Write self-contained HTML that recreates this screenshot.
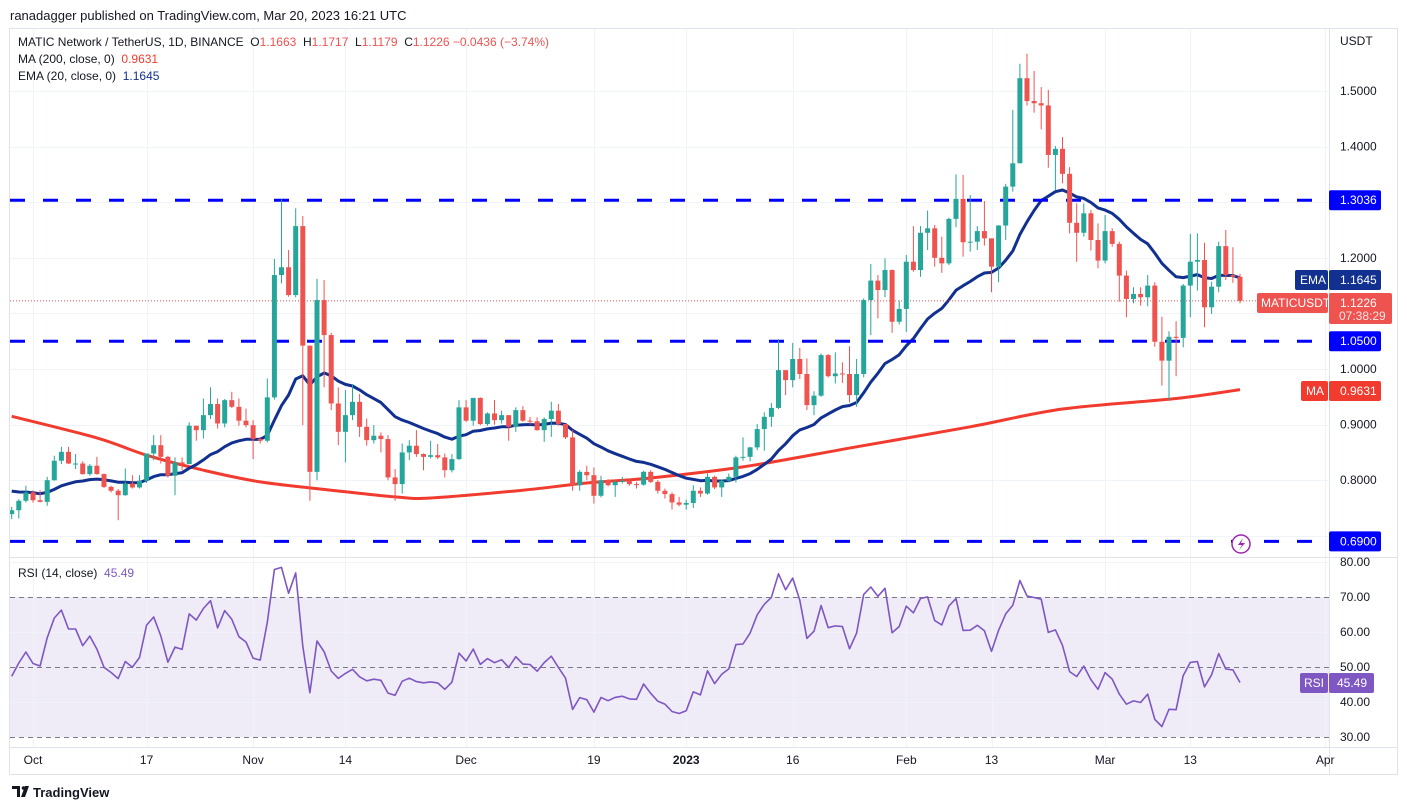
<!DOCTYPE html>
<html><head><meta charset="utf-8"><style>
html,body{margin:0;padding:0;background:#fff;}
svg{display:block;font-family:"Liberation Sans",sans-serif;}
</style></head><body>
<svg id="c" width="1407" height="810" viewBox="0 0 1407 810"></svg>
<script>
const closes=[.746,.763,.778,.764,.761,.800,.835,.851,.830,.830,.811,.826,.811,.788,.781,.773,.794,.787,.799,.848,.863,.842,.808,.832,.829,.898,.890,.917,.937,.902,.944,.932,.907,.899,.874,.871,.949,1.169,1.183,1.133,1.257,1.042,.815,1.124,1.061,.938,.887,.917,.941,.896,.872,.880,.874,.805,.793,.850,.862,.847,.842,.845,.841,.818,.838,.931,.907,.948,.901,.920,.908,.917,.896,.926,.907,.906,.890,.910,.925,.901,.877,.791,.815,.809,.772,.800,.791,.797,.799,.793,.792,.815,.797,.781,.775,.760,.756,.759,.781,.776,.806,.787,.799,.806,.841,.842,.859,.892,.914,.930,.998,.980,1.018,.991,.935,.952,1.025,.987,.992,.991,.953,.991,1.124,1.159,1.142,1.178,1.085,1.108,1.193,1.178,1.245,1.253,1.200,1.190,1.270,1.306,1.228,1.229,1.248,1.235,1.184,1.258,1.328,1.370,1.523,1.482,1.478,1.474,1.385,1.396,1.351,1.263,1.245,1.280,1.232,1.195,1.248,1.225,1.168,1.126,1.135,1.129,1.150,1.049,1.015,1.058,1.056,1.150,1.193,1.196,1.111,1.148,1.221,1.169,1.166,1.1226];
const highs=[.752,.766,.790,.782,.782,.806,.844,.860,.860,.847,.834,.829,.842,.812,.790,.784,.821,.809,.809,.848,.881,.881,.844,.841,.841,.904,.898,.947,.967,.947,.946,.959,.947,.929,.908,.878,.983,1.198,1.305,1.214,1.289,1.275,1.042,1.162,1.160,1.065,.967,.962,.973,.955,.911,.899,.886,.881,.820,.866,.872,.890,.848,.871,.865,.848,.847,.944,.944,.948,.949,.922,.944,.925,.917,.931,.933,.914,.913,.913,.941,.937,.901,.890,.818,.826,.823,.808,.802,.800,.806,.802,.797,.817,.818,.800,.785,.778,.770,.765,.791,.787,.812,.808,.801,.812,.844,.877,.860,.901,.922,.939,1.054,.997,1.047,1.038,1.019,.960,1.028,1.027,1.030,1.012,1.041,1.018,1.127,1.189,1.169,1.199,1.179,1.123,1.205,1.257,1.257,1.285,1.259,1.238,1.272,1.350,1.349,1.313,1.257,1.302,1.235,1.259,1.333,1.466,1.549,1.567,1.536,1.507,1.502,1.401,1.417,1.363,1.298,1.298,1.286,1.262,1.277,1.253,1.229,1.177,1.147,1.147,1.169,1.156,1.094,1.068,1.086,1.153,1.243,1.244,1.227,1.157,1.229,1.250,1.219,1.171];
const lows=[.730,.731,.760,.760,.760,.754,.799,.829,.829,.820,.810,.808,.810,.786,.778,.728,.772,.785,.785,.795,.836,.830,.805,.773,.818,.829,.871,.875,.910,.893,.895,.930,.898,.895,.838,.866,.868,.945,1.154,1.130,1.129,.899,.763,.800,.967,.926,.863,.832,.908,.878,.862,.866,.850,.800,.763,.776,.836,.842,.818,.839,.838,.805,.814,.836,.905,.898,.899,.898,.900,.902,.871,.887,.905,.900,.889,.869,.878,.898,.874,.781,.781,.800,.758,.769,.789,.770,.794,.790,.785,.790,.795,.776,.767,.747,.753,.747,.750,.770,.774,.784,.770,.797,.796,.835,.834,.854,.853,.896,.928,.953,.967,.982,.926,.917,.950,.985,.974,.975,.940,.932,.985,1.061,1.091,1.129,1.065,1.080,1.067,1.175,1.166,1.214,1.184,1.173,1.187,1.255,1.202,1.211,1.214,1.222,1.138,1.156,1.232,1.319,1.370,1.474,1.461,1.431,1.362,1.322,1.334,1.244,1.193,1.238,1.213,1.181,1.190,1.220,1.121,1.093,1.118,1.114,1.113,1.040,.970,.944,.987,1.039,1.093,1.141,1.075,1.099,1.138,1.160,1.155,1.118];
const firstOpen=.739;
const firstDay=-3; // days relative to Oct 1
const maDays=[-3,9,16,24,32,42,51,56,69,78,87,100,116,132,145,161,170];
const maVals=[.915,.876,.845,.818,.797,.782,.770,.768,.782,.795,.804,.824,.860,.896,.928,.947,.963];
const priceTicks=[1.5,1.4,1.3,1.2,1.1,1.0,0.9,0.8,0.7];
const levels=[1.3036,1.05,0.69];
const rsiTicks=[80,70,60,50,40,30];
const timeLabels=["Oct","17","Nov","14","Dec","19","2023","16","Feb","13","Mar","13","Apr"];
const timeDays=[0,16,31,44,61,79,92,107,123,135,151,163,182];

const NS="http://www.w3.org/2000/svg";
const svg=document.getElementById('c');
function mk(tag,attrs,parent){const e=document.createElementNS(NS,tag);for(const k in attrs)e.setAttribute(k,attrs[k]);(parent||svg).appendChild(e);return e;}
function txt(s,attrs,parent){const e=mk('text',attrs,parent);e.textContent=s;return e;}
const xOf=d=>33+d*7.1;
const yP=p=>91+(1.5-p)*556;
const yR=v=>597+(70-v)*3.5;

const frame=mk('rect',{x:9.5,y:28.5,width:1388,height:746,fill:'none',stroke:'#e0e3eb'});

const band=mk('rect',{x:10,y:yR(70),width:1319,height:yR(30)-yR(70),fill:'#efebf7'});

const grid=mk('g',{stroke:'#f0f3fa','stroke-width':1});

timeDays.forEach(d=>{const x=Math.round(xOf(d))+.5;if(x<1329)mk('line',{x1:x,x2:x,y1:29,y2:747},grid);});
priceTicks.forEach(p=>{const y=Math.round(yP(p))+.5;if(y<557)mk('line',{x1:10,x2:1329,y1:y,y2:y},grid);});
[80,60,40].forEach(v=>{const y=Math.round(yR(v))+.5;mk('line',{x1:10,x2:1329,y1:y,y2:y},grid);});
[70,50,30].forEach(v=>{const y=Math.round(yR(v))+.5;mk('line',{x1:10,x2:1329,y1:y,y2:y,stroke:'#787b86','stroke-dasharray':'5 4'},svg);});
mk('line',{x1:1329.5,x2:1329.5,y1:28,y2:774,stroke:'#e0e3eb'});
mk('line',{x1:9,x2:1397,y1:557.5,y2:557.5,stroke:'#e0e3eb'});
mk('line',{x1:9,x2:1397,y1:747.5,y2:747.5,stroke:'#e0e3eb'});

const clip=mk('clipPath',{id:'mainclip'});mk('rect',{x:10,y:29,width:1319,height:528},clip);
const main=mk('g',{'clip-path':'url(#mainclip)'});


// MA200 smooth (Catmull-Rom)
const pts=maDays.map((dd,i)=>[xOf(dd),yP(maVals[i])]);
let d='M'+pts[0][0].toFixed(1)+' '+pts[0][1].toFixed(1);
for(let i=0;i<pts.length-1;i++){const p0=pts[Math.max(0,i-1)],p1=pts[i],p2=pts[i+1],p3=pts[Math.min(pts.length-1,i+2)];
 const c1=[p1[0]+(p2[0]-p0[0])/6,p1[1]+(p2[1]-p0[1])/6],c2=[p2[0]-(p3[0]-p1[0])/6,p2[1]-(p3[1]-p1[1])/6];
 d+='C'+c1.map(v=>v.toFixed(1)).join(' ')+' '+c2.map(v=>v.toFixed(1)).join(' ')+' '+p2[0].toFixed(1)+' '+p2[1].toFixed(1);}
const ma=mk('path',{d:d,fill:'none',stroke:'#f23b2f','stroke-width':3,'stroke-linejoin':'round'},main);

let ema=.784,k=2/21;d='';
closes.forEach((c,i)=>{ema=c*k+ema*(1-k);d+=(i?'L':'M')+xOf(firstDay+i).toFixed(1)+' '+yP(ema).toFixed(1);});
const em=mk('path',{d:d,fill:'none',stroke:'#12308f','stroke-width':3,'stroke-linejoin':'round'},main);

levels.forEach(p=>{const l=mk('line',{x1:10,x2:1329,y1:yP(p),y2:yP(p),stroke:'#0000ff','stroke-width':3,'stroke-dasharray':'15 18'},main);
});
const last=closes[closes.length-1];
mk('line',{x1:10,x2:1329,y1:yP(last),y2:yP(last),stroke:'#ef5350','stroke-dasharray':'1 2'},main);
const cg=mk('g',{},main);
closes.forEach((c,i)=>{
  const o=i?closes[i-1]:firstOpen;const col=c>=o?'#26a69a':'#ef5350';const x=xOf(firstDay+i);
  const g=mk('g',{fill:col,stroke:col},cg);
  
  
  mk('line',{x1:x,x2:x,y1:yP(highs[i]),y2:yP(lows[i]),'stroke-width':1},g);
  const t=yP(Math.max(o,c)),b=yP(Math.min(o,c));
  mk('rect',{x:x-2.5,y:t,width:5,height:Math.max(1,b-t),stroke:'none'},g);
});
let ag=.008,al=.0095;d='';let prev=firstOpen;
closes.forEach((c,i)=>{const ch=c-prev;prev=c;ag=(ag*13+Math.max(ch,0))/14;al=(al*13+Math.max(-ch,0))/14;
 const r=100-100/(1+ag/al);d+=(i?'L':'M')+xOf(firstDay+i).toFixed(1)+' '+yR(r).toFixed(1);});
const rl=mk('path',{d:d,fill:'none',stroke:'#7e57c2','stroke-width':1.6,'stroke-linejoin':'round'});


const ax=mk('g',{'font-size':12,fill:'#131722'});
txt('USDT',{x:1340,y:45},ax);
priceTicks.forEach(p=>txt(p.toFixed(4),{x:1340,y:yP(p)+4},ax));
rsiTicks.forEach(v=>txt(v.toFixed(2),{x:1340,y:yR(v)+4},ax));
function box(x,y,w,h,fill,s,name,tx,fc){const g=mk('g',{});
 mk('rect',{x:x,y:y,width:w,height:h,fill:fill,rx:2},g);txt(s,{x:tx,y:y+14,'font-size':12,fill:fc||'#fff'},g);return g;}
box(1329,yP(1.3036)-10,52,20,'#0000ff','1.3036','level-label-1.3036',1340);
box(1329,yP(1.05)-10,52,20,'#0000ff','1.0500','level-label-1.05',1340);
box(1329,yP(0.69)-10,52,20,'#0000ff','0.6900','level-label-0.69',1340);
box(1295,270,33,20,'#12308f','EMA','ema-tag',1300);
box(1329,270,52,20,'#12308f','1.1645','ema-value',1340);
box(1257,293,71,20,'#ef5350','MATICUSDT','symbol-tag',1261);
const pb=box(1329,293,63,31,'#ef5350','1.1226','last-price',1340);
txt('07:38:29',{x:1339,y:320,'font-size':12,fill:'#fde3e3'},pb);
box(1301,381,27,20,'#f23b2f','MA','ma-tag',1306);
box(1329,381,52,20,'#f23b2f','0.9631','ma-value',1340);
box(1300,673,28,20,'#7e57c2','RSI','rsi-tag',1304);
box(1329,673,45,20,'#7e57c2','45.49','rsi-value',1337);
const ta=mk('g',{'font-size':12,fill:'#131722','text-anchor':'middle'});
timeLabels.forEach((s,i)=>{const t=txt(s,{x:xOf(timeDays[i]),y:764},ta);if(s==='2023')t.setAttribute('font-weight','bold');});
const lg=mk('g',{});
mk('circle',{cx:1241,cy:544,r:9,fill:'#fff',stroke:'#9c27b0','stroke-width':1.5},lg);
mk('path',{d:'M1243 538 L1238 545 L1242 545 L1239 550 L1245 543 L1241 543 Z',fill:'#9c27b0'},lg);
const hd=txt('ranadagger published on TradingView.com, Mar 20, 2023 16:21 UTC',{x:10,y:20,'font-size':13,fill:'#131722'});

const lgd=mk('g',{'font-size':12,fill:'#131722'});
const t1=txt('',{x:18,y:46},lgd);
t1.innerHTML='MATIC Network / TetherUS, 1D, BINANCE  O<tspan fill="#ef5350">1.1663</tspan>  H<tspan fill="#ef5350">1.1717</tspan>  L<tspan fill="#ef5350">1.1179</tspan>  C<tspan fill="#ef5350">1.1226 −0.0436 (−3.74%)</tspan>';
t1.style.whiteSpace='pre';
const t2=txt('',{x:18,y:63},lgd);t2.innerHTML='MA (200, close, 0)  <tspan fill="#f23b2f">0.9631</tspan>';t2.style.whiteSpace='pre';
const t3=txt('',{x:18,y:80},lgd);t3.innerHTML='EMA (20, close, 0)  <tspan fill="#12308f">1.1645</tspan>';t3.style.whiteSpace='pre';
const t4=txt('',{x:18,y:577,'font-size':12,fill:'#131722'});t4.innerHTML='RSI (14, close)  <tspan fill="#7e57c2">45.49</tspan>';t4.style.whiteSpace='pre';

const ft=mk('g',{});
mk('path',{d:'M12 786 h8 v11 h-3 v-8 h-5 z M21 797 l4 -11 h4 l-4 11 z',fill:'#131722'},ft);
mk('circle',{cx:23.5,cy:788,r:1.8,fill:'#131722'},ft);
txt('TradingView',{x:33,y:797,'font-size':13,'font-weight':'bold',fill:'#131722'},ft);
</script>
</body></html>
